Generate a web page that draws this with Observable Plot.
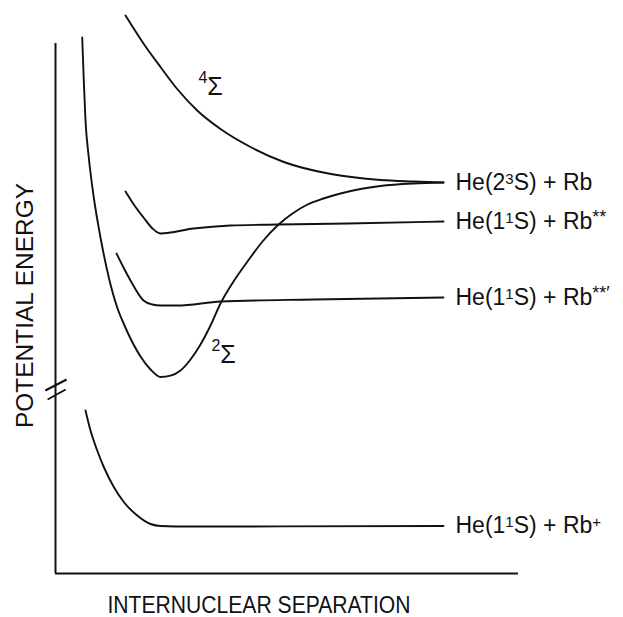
<!DOCTYPE html>
<html>
<head>
<meta charset="utf-8">
<script src="https://cdn.jsdelivr.net/npm/d3@7"></script>
<script src="https://cdn.jsdelivr.net/npm/@observablehq/plot@0.6"></script>
<style>
  html, body { margin: 0; padding: 0; background: #fff; }
</style>
</head>
<body>
<div id="chart"></div>
<script>
// Schematic potential-energy curves (arbitrary units): [internuclear separation, energy]
const wallAndTwoSigma = [
  [0.577, 10.72], [0.611, 9.86], [0.648, 9.06], [0.719, 8.32], [0.827, 7.52],
  [0.972, 6.72], [1.151, 5.92], [1.333, 5.32], [1.490, 4.96], [1.663, 4.62],
  [1.836, 4.34], [2.052, 4.08], [2.268, 3.93], [2.484, 3.956], [2.700, 4.06],
  [2.916, 4.28], [3.132, 4.58], [3.348, 4.96], [3.564, 5.40], [3.845, 5.84],
  [4.147, 6.24], [4.471, 6.64], [4.795, 6.96], [5.119, 7.20], [5.443, 7.38],
  [5.788, 7.50], [6.156, 7.60], [6.588, 7.69], [7.019, 7.75], [7.732, 7.80],
  [8.380, 7.82]
];
const fourSigma = [
  [1.512, 11.16], [1.907, 10.59], [2.268, 10.13], [2.629, 9.69], [3.060, 9.26],
  [3.564, 8.89], [4.212, 8.53], [4.931, 8.23], [5.896, 8.00], [6.307, 7.94],
  [7.019, 7.87], [7.732, 7.84], [8.380, 7.82]
];
const rbStarStar = [
  [1.512, 7.64], [1.706, 7.36], [1.901, 7.12], [2.095, 6.90], [2.268, 6.80],
  [2.981, 6.90], [3.780, 6.96], [4.795, 6.98], [6.307, 7.00],
  [8.380, 7.04]
];
const rbStarStarPrime = [
  [1.318, 6.40], [1.469, 6.12], [1.620, 5.86], [1.901, 5.46], [2.095, 5.38],
  [2.268, 5.36], [2.635, 5.36], [3.564, 5.44], [5.572, 5.48], [8.380, 5.52]
];
const rbPlus = [
  [0.648, 3.26], [0.756, 2.86], [0.901, 2.46], [1.043, 2.13], [1.259, 1.73],
  [1.475, 1.43], [1.765, 1.16], [2.052, 0.99], [2.268, 0.95], [2.916, 0.94],
  [8.380, 0.95]
];

const asymptoteLabels = ["He(2³S) + Rb", "He(1¹S) + Rb**", "He(1¹S) + Rb**′", "He(1¹S) + Rb⁺"];
const asymptoteCurves = [wallAndTwoSigma, rbStarStar, rbStarStarPrime, rbPlus];

const sigmaLabels = ["⁴Σ", "²Σ"];
const sigmaLabelX = [3.35, 3.63];
const sigmaLabelY = [9.74, 4.38];

const xAxisLabel = "INTERNUCLEAR SEPARATION";
const yAxisLabel = "POTENTIAL ENERGY";

const xMax = 10;
const yAxisTop = 10.6;
const breakAt = 3.67;

// derived tables
const endLabels = asymptoteLabels.map((text, i) => {
  const c = asymptoteCurves[i];
  const last = c[c.length - 1];
  return {x: last[0], y: last[1], text};
});
const sigmaTable = sigmaLabels.map((text, i) => ({x: sigmaLabelX[i], y: sigmaLabelY[i], text}));
const breakMarks = [
  {x1: -0.22, y1: breakAt - 0.01, x2: 0.24, y2: breakAt + 0.21},
  {x1: -0.17, y1: breakAt - 0.19, x2: 0.22, y2: breakAt + 0.01}
];

const ink = "#111";
const sw = 1.9;
const font = "'Liberation Sans', 'DejaVu Sans', sans-serif";
const labelSize = 23;
const sigmaSize = 25;

const lineOpts = {x: d => d[0], y: d => d[1], curve: "monotone-x", stroke: ink, strokeWidth: sw};

const chart = Plot.plot({
  width: 623,
  height: 617,
  marginLeft: 55,
  marginRight: 105,
  marginTop: 13,
  marginBottom: 44,
  x: {domain: [0, xMax], axis: null},
  y: {domain: [0, 11.2], axis: null},
  style: {fontFamily: font, background: "#fff", color: ink},
  marks: [
    Plot.ruleX([0], {y1: 0, y2: yAxisTop, stroke: ink, strokeWidth: 2}),
    Plot.ruleY([0], {x1: 0, x2: xMax, stroke: ink, strokeWidth: 2}),
    Plot.link(breakMarks, {x1: "x1", y1: "y1", x2: "x2", y2: "y2", stroke: ink, strokeWidth: 2}),
    Plot.line(wallAndTwoSigma, lineOpts),
    Plot.line(fourSigma, lineOpts),
    Plot.line(rbStarStar, lineOpts),
    Plot.line(rbStarStarPrime, lineOpts),
    Plot.line(rbPlus, lineOpts),
    Plot.text(endLabels, {x: "x", y: "y", text: "text", textAnchor: "start", lineAnchor: "middle", dx: 12, fontSize: labelSize, fill: ink}),
    Plot.text(sigmaTable, {x: "x", y: "y", text: "text", lineAnchor: "middle", fontSize: sigmaSize, fill: ink}),
    Plot.text([xAxisLabel], {frameAnchor: "bottom", text: d => d, textAnchor: "middle", lineAnchor: "bottom", dx: -28, dy: 39, fontSize: labelSize, fill: ink}),
    Plot.text([yAxisLabel], {frameAnchor: "left", text: d => d, rotate: -90, textAnchor: "middle", lineAnchor: "bottom", dx: -23, dy: 12, fontSize: labelSize, fill: ink})
  ]
});

// typographic fixes: fitted axis-label lengths, raised superscripts
const ns = "http://www.w3.org/2000/svg";
const targetLengths = new Map([[xAxisLabel, 303], [yAxisLabel, 245]]);
const supMap = {"¹": "1", "²": "2", "³": "3", "⁴": "4", "⁺": "+", "*": "*", "′": "′"};

function raiseSuperscripts(t, baseSize, supSize, raise) {
  const s = t.textContent;
  const segs = [];
  for (const ch of s) {
    const sup = ch in supMap;
    const c = sup ? supMap[ch] : ch;
    const last = segs[segs.length - 1];
    if (last && last.sup === sup) last.str += c;
    else segs.push({sup, str: c});
  }
  if (!segs.some(d => d.sup)) return;
  let base = 0;
  const dyAttr = t.getAttribute("dy");
  if (dyAttr) {
    base = parseFloat(dyAttr) * (dyAttr.endsWith("em") ? baseSize : 1);
    t.removeAttribute("dy");
  }
  t.textContent = "";
  let prev = -base;
  segs.forEach(seg => {
    const ts = document.createElementNS(ns, "tspan");
    const target = seg.sup ? -raise : 0;
    ts.setAttribute("dy", target - prev);
    prev = target;
    if (seg.sup) ts.setAttribute("font-size", /\*/.test(seg.str) ? supSize + 3 : supSize);
    ts.textContent = seg.str;
    t.appendChild(ts);
  });
}

chart.querySelectorAll("text").forEach(t => {
  const s = t.textContent;
  if (targetLengths.has(s)) {
    t.setAttribute("textLength", targetLengths.get(s));
    t.setAttribute("lengthAdjust", "spacingAndGlyphs");
    return;
  }
  if (sigmaLabels.includes(s)) raiseSuperscripts(t, sigmaSize, 16, 12);
  else if (asymptoteLabels.includes(s)) raiseSuperscripts(t, labelSize, 15, 6);
});

document.getElementById("chart").appendChild(chart);
</script>
</body>
</html>
